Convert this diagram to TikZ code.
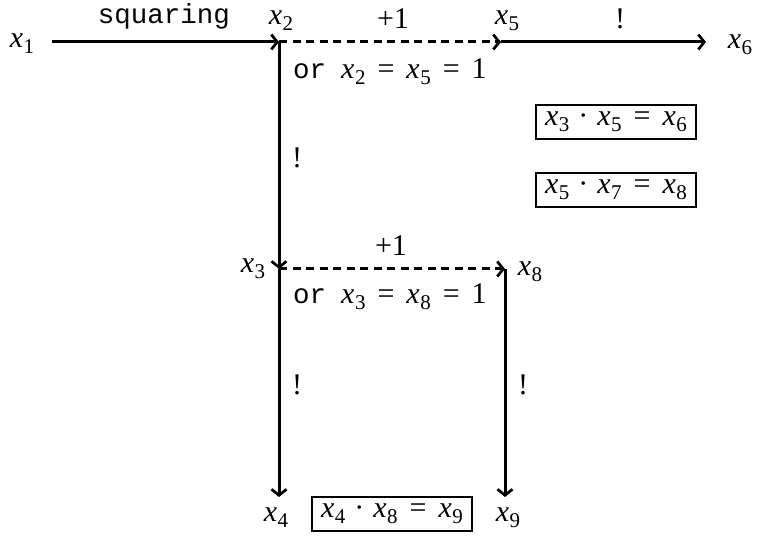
\documentclass[tikz,border=0pt]{standalone}
\usepackage{fontspec}
\setmainfont{Liberation Serif}
\setmonofont{Liberation Mono}
\usetikzlibrary{arrows.meta}
\newcommand{\vx}[1]{\textit{x}\kern0.5pt\raisebox{-0.2em}{\fontsize{21}{24}\selectfont #1}}
\newcommand{\eqs}{\kern0.4em=\kern0.4em}
\newcommand{\cdt}{\kern0.3em·\kern0.3em}
\newcommand{\mono}[1]{{\fontsize{27.5}{30}\selectfont\texttt{#1}}}
\begin{document}
\begin{tikzpicture}[x=1pt,y=-1pt,
  every node/.style={font=\fontsize{30}{34}\selectfont, inner sep=0pt},
  solidarrow/.style={line width=3pt,-{Straight Barb[length=6pt,width=15pt,line width=2.7pt]}},
  dasharrow/.style={solidarrow, dash pattern=on 8pt off 5.5pt},
  eqbox/.style={draw, line width=2.8pt, inner xsep=9pt, inner ysep=7pt}]
\useasboundingbox (0,0) rectangle (772,537);
% corner coordinates
\coordinate (c1) at (52,42);
\coordinate (c2) at (279,42);
\coordinate (c5) at (501,42);
\coordinate (c6) at (706,42);
\coordinate (c3) at (279,269);
\coordinate (c8) at (505,269);
\coordinate (c4) at (279,497);
\coordinate (c9) at (505,497);
% labels
\node (x1) at (22,44) {\vx{1}};
\node (x2) at (281,21) {\vx{2}};
\node (x5) at (507,21) {\vx{5}};
\node (x6) at (740,45) {\vx{6}};
\node (x3) at (253,269) {\vx{3}};
\node (x8) at (530,272) {\vx{8}};
\node (x4) at (276,518) {\vx{4}};
\node (x9) at (508,518) {\vx{9}};
% edge labels
\node (sq) at (164,16) {\mono{squaring}};
\node (p1) at (393,19) {+1};
\node (e1) at (620,19) {!};
\node[anchor=west] (or1) at (293,72) {\mono{or}\ \ \vx{2}\eqs\vx{5}\eqs1};
\node (e2) at (297,158) {!};
\node (p2) at (391,246) {+1};
\node[anchor=west] (or2) at (293,297) {\mono{or}\ \ \vx{3}\eqs\vx{8}\eqs1};
\node (e3) at (297,385) {!};
\node (e4) at (523,385) {!};
% boxes
\node[eqbox] (b1) at (616,122) {\vx{3}\cdt\vx{5}\eqs\vx{6}};
\node[eqbox] (b2) at (616,190) {\vx{5}\cdt\vx{7}\eqs\vx{8}};
\node[eqbox] (b3) at (392,514) {\vx{4}\cdt\vx{8}\eqs\vx{9}};
% connectors
\draw[solidarrow] (c1) -- (c2);
\draw[dasharrow] (c2) -- (c5);
\draw[solidarrow] (c5) -- (c6);
\draw[solidarrow] (c2) -- (c3);
\draw[dasharrow] (c3) -- (c8);
\draw[solidarrow] (c3) -- (c4);
\draw[solidarrow] (c8) -- (c9);
\end{tikzpicture}
\end{document}
